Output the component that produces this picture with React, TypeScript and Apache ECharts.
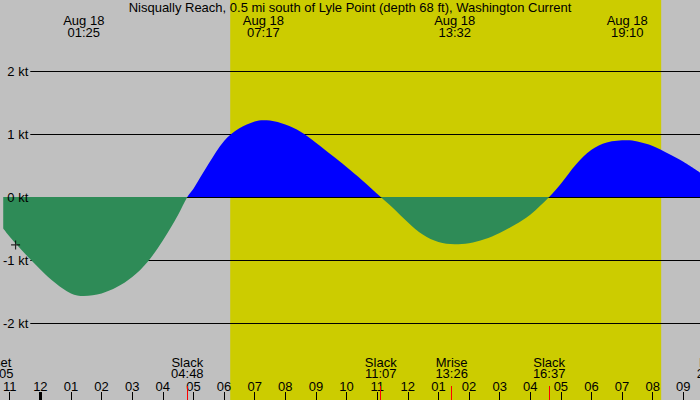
import { useEffect, useRef } from "react";
import * as echarts from "echarts";

const TITLE = "Nisqually Reach, 0.5 mi south of Lyle Point (depth 68 ft), Washington Current";
const DATE_LABEL = "Aug 18";

// hours from midnight Aug 18 (negative = Aug 17)
const X_MIN = -1.2126;
const X_MAX = 21.544;
const Y_MIN = -3.222;
const Y_MAX = 3.127;

const HOUR_TICKS = [-1, 0, 1, 2, 3, 4, 5, 6, 7, 8, 9, 10, 11, 12, 13, 14, 15, 16, 17, 18, 19, 20, 21];
const KT_TICKS = [-2, -1, 0, 1, 2];

const SUNRISE = 6.2;
const SUNSET = 20.276;

// current speed (kt)
const CURRENT_H = [
  -1.213, -1.0, -0.5, 0.0, 0.5, 1.0, 1.417, 2.0, 2.5, 3.0, 3.5, 4.0, 4.5, 4.8,
  5.0, 5.5, 6.0, 6.5, 7.0, 7.283, 7.5, 8.0, 8.5, 9.0, 9.5, 10.0, 10.5, 11.117,
  11.5, 12.0, 12.5, 13.0, 13.533, 14.0, 14.5, 15.0, 15.5, 16.0, 16.617,
  17.0, 17.5, 18.0, 18.5, 19.167, 19.5, 20.0, 20.5, 21.0, 21.544,
];
const CURRENT_V = [
  -0.5, -0.63, -0.9, -1.15, -1.37, -1.53, -1.57, -1.53, -1.43, -1.27, -1.03, -0.69, -0.28, 0,
  0.13, 0.53, 0.89, 1.09, 1.2, 1.22, 1.215, 1.15, 1.035, 0.86, 0.67, 0.475, 0.27, 0,
  -0.165, -0.4, -0.6, -0.715, -0.75, -0.735, -0.67, -0.57, -0.44, -0.28, 0,
  0.21, 0.52, 0.75, 0.865, 0.9, 0.88, 0.81, 0.69, 0.56, 0.39,
];

// max flood / max ebb labels along the top
const EXTREME_H = [1.417, 7.283, 13.533, 19.167];
const EXTREME_TIME = ["01:25", "07:17", "13:32", "19:10"];

// events along the bottom
const EVENT_H = [-1.41, 4.8, 11.117, 13.433, 16.617, 21.97];
const EVENT_NAME = ["Mset", "Slack", "Slack", "Mrise", "Slack", "Mset"];
const EVENT_TIME = ["22:05", "04:48", "11:07", "13:26", "16:37", "21:58"];

const MARK_H = [-0.81];
const MARK_V = [-0.76];

const FONT = "Liberation Sans";

function hourLabel(h: number) {
  const hr = ((h % 24) + 24) % 24;
  const h12 = hr % 12 === 0 ? 12 : hr % 12;
  return String(h12).padStart(2, "0");
}

function findIndex(arr: number[], v: number) {
  let best = 0;
  for (let i = 1; i < arr.length; i++) if (Math.abs(arr[i] - v) < Math.abs(arr[best] - v)) best = i;
  return best;
}

export default function App() {
  const ref = useRef<HTMLDivElement>(null);
  useEffect(() => {
    if (!ref.current) return;
    const chart = echarts.init(ref.current, undefined, { renderer: "svg" });
    const label = { color: "#000", fontFamily: FONT, fontSize: 13 };
    const hiddenLine = { showSymbol: false, lineStyle: { opacity: 0 }, silent: true };
    const noLine = { show: false, onZero: false };
    const option: echarts.EChartsOption = {
      animation: false,
      backgroundColor: "#c0c0c0",
      textStyle: { fontFamily: FONT },
      title: {
        text: TITLE,
        left: "center",
        top: 1,
        padding: 0,
        textStyle: { ...label, fontWeight: "normal", lineHeight: 13 },
      },
      grid: [
        { left: 0, right: 0, top: 0, bottom: 0 },
        { left: 30, right: 0, top: 0, bottom: 0 },
      ],
      xAxis: [
        {
          type: "value", gridIndex: 0, min: X_MIN, max: X_MAX, position: "bottom", z: 10,
          axisLine: noLine,
          splitLine: { show: false },
          axisTick: { customValues: HOUR_TICKS, inside: true, length: 8, lineStyle: { color: "#000", width: 1 } },
          axisLabel: { customValues: HOUR_TICKS, inside: true, margin: 7, formatter: (v: number) => hourLabel(v), ...label, lineHeight: 13 },
        },
        {
          type: "value", gridIndex: 0, min: X_MIN, max: X_MAX, position: "bottom", z: 11,
          axisLine: noLine,
          splitLine: { show: false },
          axisTick: { customValues: [0], inside: true, length: 8, lineStyle: { color: "#000", width: 3 } },
          axisLabel: { show: false },
        },
        {
          type: "value", gridIndex: 0, min: X_MIN, max: X_MAX, position: "bottom", z: 12,
          axisLine: noLine,
          splitLine: { show: false },
          axisTick: { customValues: EVENT_H, inside: true, length: 14, lineStyle: { color: "#ff0000", width: 1 } },
          axisLabel: { show: false },
        },
        {
          type: "value", gridIndex: 0, min: X_MIN, max: X_MAX, position: "top", z: 10,
          axisLine: noLine,
          splitLine: { show: false },
          axisTick: { show: false },
          axisLabel: {
            customValues: EXTREME_H, inside: true, margin: 14, ...label, lineHeight: 12,
            formatter: (v: number) => `${DATE_LABEL}\n${EXTREME_TIME[findIndex(EXTREME_H, v)]}`,
          },
        },
        { type: "value", gridIndex: 1, min: 0, max: 1, show: false },
      ],
      yAxis: [
        { type: "value", gridIndex: 0, min: Y_MIN, max: Y_MAX, show: false },
        {
          type: "value", gridIndex: 1, min: Y_MIN, max: Y_MAX, z: 10,
          axisLine: noLine,
          axisTick: { show: false },
          splitLine: { show: false },
          axisLabel: { customValues: KT_TICKS, margin: 2, formatter: (v: number) => `${v} kt`, ...label },
        },
      ],
      visualMap: {
        type: "piecewise",
        show: false,
        seriesIndex: 2,
        dimension: 1,
        pieces: [
          { gt: 0, lte: 10, color: "#0000ff" },
          { gte: -10, lte: 0, color: "#2e8b57" },
        ],
      },
      series: [
        {
          type: "line", xAxisIndex: 0, yAxisIndex: 0, z: 0, ...hiddenLine,
          data: [[SUNRISE, 0]],
          markArea: {
            silent: true,
            z: 0,
            itemStyle: { color: "#cccc00" },
            data: [[{ xAxis: SUNRISE }, { xAxis: SUNSET }]],
          },
        },
        {
          type: "line", xAxisIndex: 4, yAxisIndex: 1, z: 1, ...hiddenLine,
          data: [[0, 0]],
          markLine: {
            silent: true,
            z: 1,
            symbol: "none",
            label: { show: false },
            lineStyle: { color: "#000", width: 1, type: "solid" },
            data: KT_TICKS.map((v) => ({ yAxis: v })),
          },
        },
        {
          type: "line", xAxisIndex: 0, yAxisIndex: 0, z: 2,
          data: CURRENT_H.map((h, i) => [h, CURRENT_V[i]]),
          smooth: 0.35,
          showSymbol: false,
          lineStyle: { width: 0 },
          areaStyle: { opacity: 1 },
        },
        {
          type: "scatter", xAxisIndex: 0, yAxisIndex: 0, z: 5,
          data: MARK_H.map((h, i) => [h, MARK_V[i]]),
          symbol: "path://M0,4L8,4M4,0L4,8",
          symbolSize: 9,
          itemStyle: { color: "transparent", borderColor: "#000", borderWidth: 1.2 },
        },
        {
          type: "scatter", xAxisIndex: 0, yAxisIndex: 0, z: 10, silent: true, clip: false,
          data: EVENT_H.map((h) => [h, Y_MIN]),
          symbolSize: 0,
          itemStyle: { color: "#000", opacity: 1 },
          label: {
            show: true,
            position: "top",
            distance: 21,
            ...label,
            lineHeight: 11,
            formatter: (p: any) => `${EVENT_NAME[p.dataIndex]}\n${EVENT_TIME[p.dataIndex]}`,
          },
        },
      ],
    };
    chart.setOption(option);
    return () => chart.dispose();
  }, []);
  return <div ref={ref} style={{ position: "fixed", left: 0, top: 0, width: 700, height: 400 }} />;
}
